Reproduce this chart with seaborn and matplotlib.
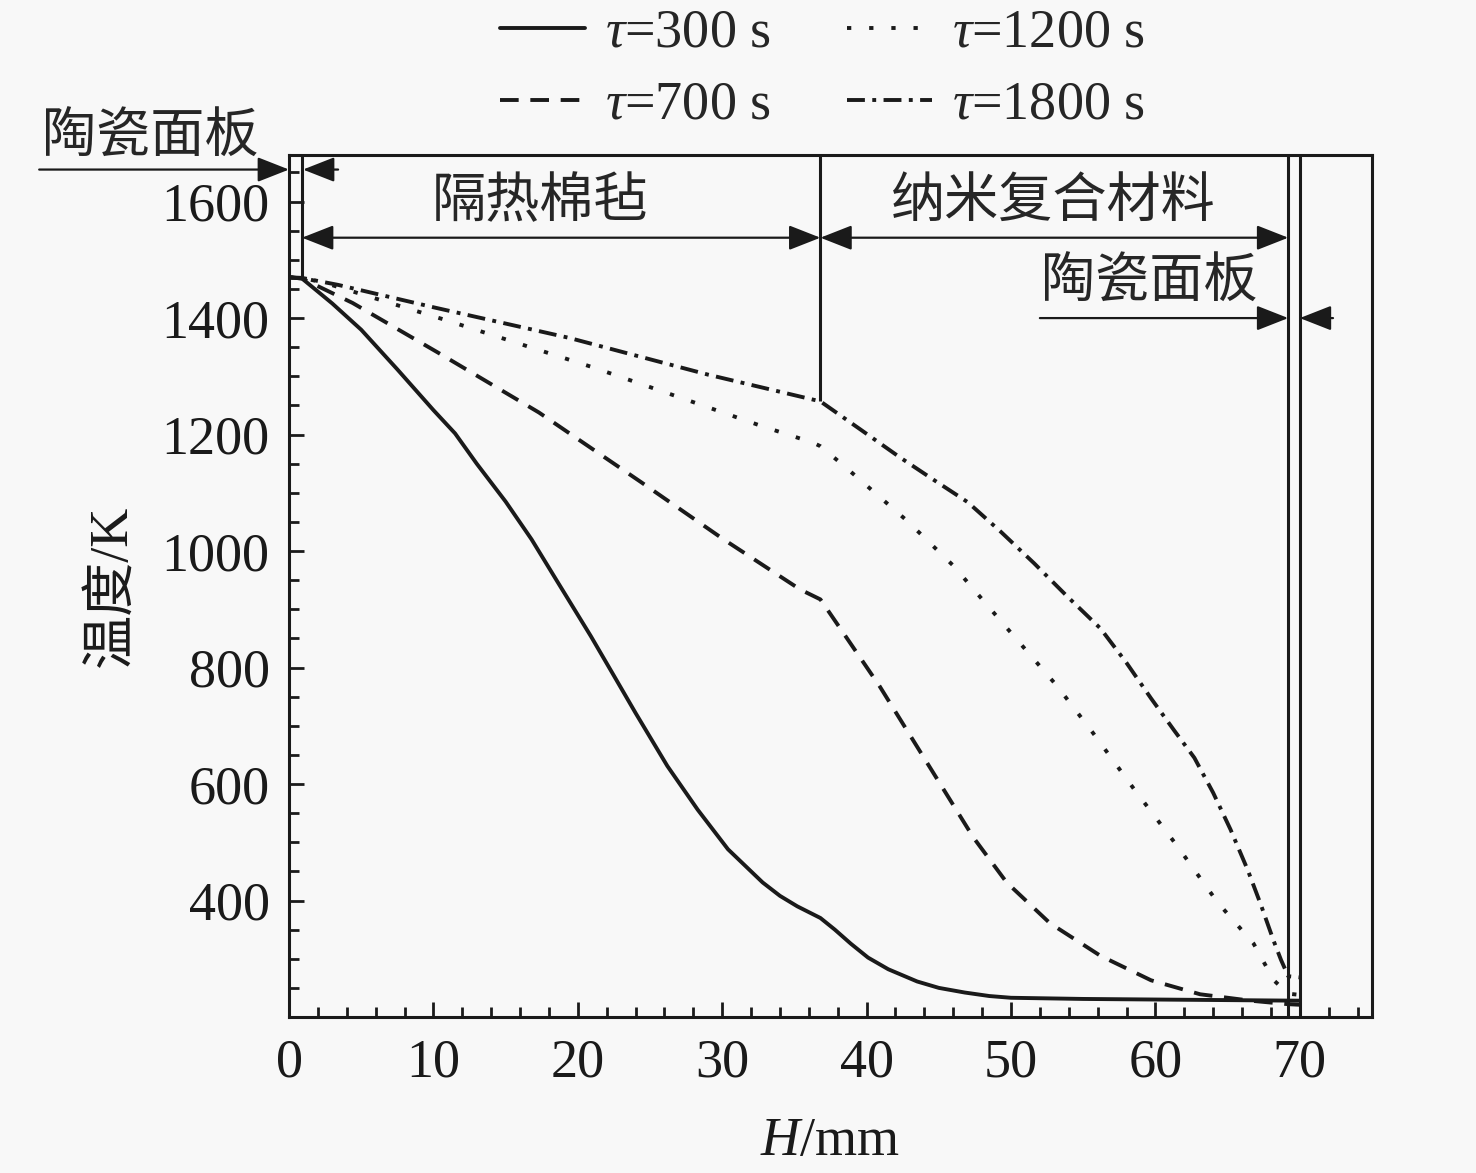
import matplotlib
matplotlib.use('Agg')
import matplotlib.pyplot as plt
from matplotlib.ticker import MultipleLocator
import pandas as pd
import seaborn as sns

# ---------------- data ----------------
x_300 = [0, 0.9, 3, 5, 7.5, 10, 11.5, 13, 15, 16.8, 18.5, 20.9, 22.5, 24.0, 26.2,
         28.3, 30.4, 32.8, 34.0, 35.2, 36.8, 37.8, 38.9, 40.1, 41.5, 43.5, 45.0,
         46.8, 48.5, 50, 55, 60, 65, 70]
t_300 = [1470, 1468, 1425, 1380, 1312, 1242, 1202, 1150, 1085, 1020, 951, 854, 786,
         722, 631, 556, 488, 431, 408, 390, 370, 350, 326, 302, 282, 261, 250,
         242, 236, 233, 231, 230, 229, 228]

x_700 = [0, 0.9, 4.4, 10.3, 17.3, 24.4, 30.1, 35.4, 36.8, 38.4, 40.9, 43.0, 45.1,
         47.4, 49.7, 52.7, 56.2, 59.7, 63.1, 66.6, 69.2, 70]
t_700 = [1470, 1468, 1426, 1341, 1238, 1118, 1020, 934, 917, 859, 768, 684, 600,
         508, 431, 361, 305, 263, 239, 228, 222, 221]

x_1200 = [0, 0.9, 2.4, 10.8, 21.1, 27.5, 32.8, 36.3, 36.8, 38.4, 42.8, 46.0, 49.5,
          53.2, 55.7, 58.5, 61.5, 64.3, 66.8, 68.2, 69.2, 70]
t_1200 = [1470, 1469, 1461, 1397, 1315, 1260, 1214, 1186, 1180, 1147, 1052, 975, 874,
          768, 687, 592, 494, 397, 326, 263, 240, 238]

x_1800 = [0, 0.9, 3.4, 10.1, 19.4, 29.0, 36.8, 39.5, 42.3, 44.6, 47.0, 49.3, 51.6,
          53.9, 56.2, 58.0, 59.7, 61.3, 62.7, 64.0, 65.2, 66.4, 67.3, 68.2, 68.7,
          69.2, 70]
t_1800 = [1470, 1469, 1457, 1418, 1366, 1303, 1257, 1210, 1161, 1123, 1084, 1033, 979,
          922, 867, 808, 747, 692, 645, 585, 522, 452, 393, 330, 298,
          270, 268]

series_labels = [r'$\tau$=300 s', r'$\tau$=700 s', r'$\tau$=1200 s', r'$\tau$=1800 s']

# layer boundaries (mm) and the lower end of each boundary line (K)
layer_x = [0.9, 36.8, 69.2, 70.0]
layer_line_bottom = [1470, 1257, 200, 200]

layer_names = ['陶瓷面板', '隔热棉毡', '纳米复合材料', '陶瓷面板']

x_ticks = [0, 10, 20, 30, 40, 50, 60, 70]
y_ticks = [400, 600, 800, 1000, 1200, 1400, 1600]

# ---------------- style ----------------
sns.set_theme(style='ticks')
plt.rcParams['font.family'] = ['Liberation Serif', 'Noto Sans CJK SC']
plt.rcParams['mathtext.fontset'] = 'custom'
plt.rcParams['mathtext.rm'] = 'Liberation Serif'
plt.rcParams['mathtext.it'] = 'Liberation Serif:italic'
plt.rcParams['axes.unicode_minus'] = False

bg = '#f8f8f8'
FS = 39
W, H = 1476, 1173
fig = plt.figure(figsize=(W / 100, H / 100), dpi=100, facecolor=bg)
ax = fig.add_axes([289 / W, 1 - 1017 / H, (1372 - 289) / W, (1017 - 155) / H])
ax.set_facecolor(bg)

lw = 2.8
styles = ['-', (0, (4.8, 3.0)), (0, (1.1, 4.6)), (0, (4.6, 1.9, 1.0, 1.9))]
xs = [x_300, x_700, x_1200, x_1800]
ts = [t_300, t_700, t_1200, t_1800]
for x, t, ls, lab in zip(xs, ts, styles, series_labels):
    df = pd.DataFrame({'H': x, 'T': t})
    sns.lineplot(data=df, x='H', y='T', ax=ax, color='k', lw=lw, linestyle=ls,
                 label=lab, sort=False, estimator=None)

if ax.get_legend() is not None:
    ax.get_legend().remove()

ax.set_xlim(0, 75)
ax.set_ylim(200, 1680)
ax.set_xticks(x_ticks)
ax.set_yticks(y_ticks)
ax.xaxis.set_minor_locator(MultipleLocator(2))
ax.yaxis.set_minor_locator(MultipleLocator(50))
ax.tick_params(axis='both', which='both', direction='in', top=False, right=False,
               colors='k', labelsize=FS)
ax.tick_params(axis='both', which='major', length=11, width=2.0)
ax.tick_params(axis='both', which='minor', length=7, width=2.0)
ax.tick_params(axis='x', which='major', pad=15)
ax.tick_params(axis='y', which='major', pad=14)
for sp in ax.spines.values():
    sp.set_linewidth(2.2)
    sp.set_color('k')

ax.set_xlabel(r'$H$/mm', fontsize=FS, color='k')
ax.set_ylabel('温度/K', fontsize=FS, color='k')
ax.xaxis.set_label_coords(0.5, -0.115)
ax.yaxis.set_label_coords(-0.14, 0.5)

# layer boundary lines
ax.vlines(layer_x, ymin=layer_line_bottom, ymax=1680, colors='k', lw=2.2)

# dimension arrows
def arrow(x0, y0, x1, y1, style='-|>'):
    ax.annotate('', xy=(x1, y1), xytext=(x0, y0), annotation_clip=False,
                arrowprops=dict(arrowstyle=f'{style},head_length=1.4,head_width=0.55',
                                mutation_scale=14, lw=1.6, color='k',
                                shrinkA=0, shrinkB=0))

arrow(-17.3, 1655, 0, 1655)
arrow(3.4, 1655, 0.97, 1655)
arrow(layer_x[0], 1538, layer_x[1], 1538, '<|-|>')
arrow(layer_x[1], 1538, layer_x[2], 1538, '<|-|>')
arrow(52.0, 1400, layer_x[2], 1400)
arrow(72.3, 1400, layer_x[3], 1400)

cjk = ['Noto Sans CJK SC']
ax.text(-17.1, 1711, layer_names[0], fontsize=FS, family=cjk, ha='left', va='center')
ax.text(17.4, 1600, layer_names[1], fontsize=FS, family=cjk, ha='center', va='center')
ax.text(52.9, 1600, layer_names[2], fontsize=FS, family=cjk, ha='center', va='center')
ax.text(59.6, 1462, layer_names[3], fontsize=FS, family=cjk, ha='center', va='center')

handles, labels = ax.get_legend_handles_labels()
fig.legend(handles, labels, loc='upper left', bbox_to_anchor=(500 / W, 1 - 8 / H),
           ncol=2, frameon=False, fontsize=FS, handlelength=1.57, handletextpad=0.37,
           columnspacing=1.4, labelspacing=0.4, borderpad=0, borderaxespad=0)

fig.savefig('out.png', dpi=100, facecolor=bg)
